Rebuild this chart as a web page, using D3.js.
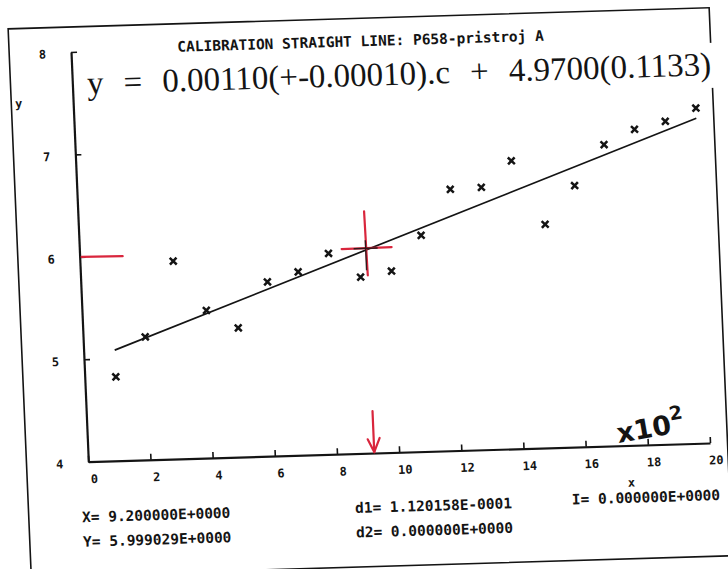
<!DOCTYPE html>
<html><head><meta charset="utf-8">
<script src="https://cdn.jsdelivr.net/npm/d3@7"></script>
<style>
html,body{margin:0;padding:0;background:#fff;}
svg{display:block;}
</style></head>
<body>
<svg id="chart" width="728" height="569"></svg>
<script>
// ---------- data (x axis in units of 10^2 of c) ----------
const xValues = [1,2,3,4,5,6,7,8,9,10,11,12,13,14,15,16,17,18,19,20];
const yValues = [4.82,5.20,5.93,5.44,5.26,5.70,5.79,5.96,5.72,5.77,6.11,6.55,6.56,6.81,6.18,6.55,6.94,7.08,7.15,7.27];
const xTickValues = [0,2,4,6,8,10,12,14,16,18,20];
const yTickValues = [4,5,6,7,8];
const fitSlope = 0.00110;      // per unit of c
const fitIntercept = 4.9700;
const fitFrom = 1, fitTo = 20; // axis units
const xMultiplier = 100;
const cursorX = 9.2, cursorY = 5.999029;
const titleText = "CALIBRATION STRAIGHT LINE: P658-pristroj A";
const equationText = "y = 0.00110(+-0.00010).c + 4.9700(0.1133)";
const infoLeft = ["X= 9.200000E+0000", "Y= 5.999029E+0000"];
const infoMid = ["d1= 1.120158E-0001", "d2= 0.000000E+0000"];
const infoRight = ["I= 0.000000E+0000"];

const INK = "#141414", RED = "#d9263d";
const MONO = "'DejaVu Sans Mono', monospace";

const svg = d3.select("#chart");
svg.append("rect").attr("width", 728).attr("height", 569).attr("fill", "#fff");

// the scanned sheet is slightly skewed
const g = svg.append("g").attr("transform", "matrix(1,-0.03008,0.04224,1,-19.5,2.656)");

const x = d3.scaleLinear().domain([0, 20]).range([88.3, 710]);
const y = d3.scaleLinear().domain([4, 8]).range([461.7, 52]);

// outer frame
g.append("rect").attr("x", 26.5).attr("y", 27).attr("width", 701).attr("height", 548)
  .attr("fill", "none").attr("stroke", INK).attr("stroke-width", 1.6);

// title
g.append("text").attr("x", 378).attr("y", 55).attr("text-anchor", "middle")
  .attr("font-family", MONO).attr("font-weight", "bold").attr("font-size", 14.5)
  .attr("fill", INK).text(titleText);

// axes
const xAxis = d3.axisBottom(x).tickValues(xTickValues).tickFormat(d => d)
  .tickSizeInner(-6).tickSizeOuter(0).tickPadding(13);
const gx = g.append("g").attr("transform", `translate(0,${y(4)})`).call(xAxis);
const yAxis = d3.axisLeft(y).tickValues(yTickValues).tickFormat(d => d)
  .tickSizeInner(-6).tickSizeOuter(0).tickPadding(25);
const gy = g.append("g").attr("transform", `translate(${x(0)},0)`).call(yAxis);
[gx, gy].forEach(a => {
  a.select(".domain").attr("stroke", INK).attr("stroke-width", 2.2);
  a.selectAll(".tick line").attr("stroke", INK).attr("stroke-width", 1.6);
  a.selectAll(".tick text").attr("font-family", MONO).attr("font-weight", "bold")
    .attr("font-size", 12).attr("fill", INK);
});
gx.selectAll(".tick text").attr("dx", 5);
gy.selectAll(".tick text").attr("dy", "0.45em");

// axis names
g.append("text").attr("x", 630).attr("y", 503).attr("text-anchor", "middle")
  .attr("font-family", MONO).attr("font-weight", "bold").attr("font-size", 12).attr("fill", INK).text("x");
g.append("text").attr("x", 34).attr("y", 106).attr("text-anchor", "middle")
  .attr("font-family", MONO).attr("font-weight", "bold").attr("font-size", 12).attr("fill", INK).text("y");

// fitted line
const fit = c => fitSlope * c * xMultiplier + fitIntercept;
g.append("line")
  .attr("x1", x(fitFrom)).attr("y1", y(fit(fitFrom)))
  .attr("x2", x(fitTo)).attr("y2", y(fit(fitTo)))
  .attr("stroke", INK).attr("stroke-width", 1.7);

// data markers
g.selectAll("path.pt").data(xValues.map((v, i) => [v, yValues[i]])).enter()
  .append("path").attr("class", "pt")
  .attr("transform", d => `translate(${x(d[0])},${y(d[1])})`)
  .attr("d", "M-3.4,-3.4L3.4,3.4M-3.4,3.4L3.4,-3.4")
  .attr("stroke", INK).attr("stroke-width", 2.5).attr("fill", "none");

// equation strip (pasted on the sheet)
g.append("rect").attr("x", 100).attr("y", 62).attr("width", 640).attr("height", 45).attr("fill", "#fff");
const eq = g.append("text").attr("x", 103).attr("y", 94.5)
  .attr("font-family", "'Liberation Serif', 'Times New Roman', serif").attr("font-size", 33)
  .attr("fill", INK).text(equationText);
const eqW = eq.node().getComputedTextLength();
eq.style("word-spacing", Math.max(0, (624 - eqW) / 4) + "px");

// info texts
const info = (arr, x0, y0) => arr.forEach((t, i) =>
  g.append("text").attr("x", x0).attr("y", y0 + i * 24.5)
    .attr("font-family", MONO).attr("font-weight", "bold").attr("font-size", 14.5)
    .attr("fill", INK).text(t));
info(infoLeft, 79.7, 522);
info(infoMid, 352.7, 521);
info(infoRight, 569.6, 519);

// cursor cross and red pen marks
const cx = x(cursorX), cy = y(cursorY);
const redLine = (x1, y1, x2, y2, w) => g.append("line").attr("x1", x1).attr("y1", y1)
  .attr("x2", x2).attr("y2", y2).attr("stroke", RED).attr("stroke-width", w || 2.2).attr("stroke-linecap", "round");
redLine(x(0) + 2, y(cursorY), x(0) + 43, y(cursorY) + 0.5);
redLine(cx, cy - 37, cx + 1, cy + 27);
redLine(cx - 24, cy, cx + 26, cy - 0.5);
g.append("path").attr("d", `M${cx - 12},${cy}H${cx + 12}M${cx},${cy - 8}V${cy + 22}`)
  .attr("stroke", INK).attr("stroke-width", 1.4).attr("opacity", 0.85);
// arrow
const ax = x(cursorX), ay = y(4);
redLine(ax, ay - 42, ax, ay - 1);
redLine(ax - 6, ay - 14, ax, ay - 1);
redLine(ax + 6, ay - 15, ax, ay - 1);

// handwritten multiplier
const hw = svg.append("text").attr("transform", "translate(652,437) rotate(-10)")
  .attr("text-anchor", "middle").attr("font-family", "'DejaVu Sans', sans-serif")
  .attr("font-weight", "bold").attr("font-size", 27).attr("fill", INK);
hw.append("tspan").text("x10");
hw.append("tspan").attr("dy", -13).attr("font-size", 19).text("2");
</script>
</body></html>
